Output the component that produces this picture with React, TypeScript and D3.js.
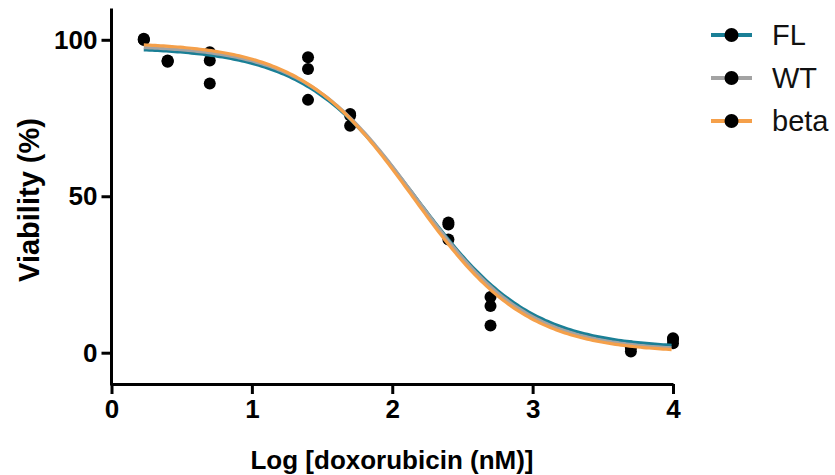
import React, { useEffect, useRef } from "react";
import * as d3 from "d3";

// log dose values (x) and viability readings per series
const seriesNames = ["FL", "WT", "beta"];
const seriesColors = ["#1a7f96", "#a3a3a3", "#f5a04a"];

const flX = [0.23, 0.4, 0.7, 1.4, 1.7, 2.4, 2.7, 3.7, 4];
const flY = [100.3, 93.4, 96, 94.4, 76.3, 41.6, 17.8, 2.0, 4.3];
const wtX = [0.23, 0.4, 0.7, 1.4, 1.7, 2.4, 2.7, 3.7, 4];
const wtY = [100, 93, 93.4, 90.7, 72.5, 36.2, 14.9, 0.4, 3.0];
const betaX = [0.23, 0.4, 0.7, 1.4, 1.7, 2.4, 2.7, 3.7, 4];
const betaY = [100, 93.2, 86, 80.8, 75.8, 41, 8.7, 1.6, 4.6];

// fitted sigmoid parameters: top, bottom, logEC50, hill
const fitTop = [97.6, 98.3, 99.2];
const fitBottom = [1.3, 0.5, 0];
const fitLogEC50 = [2.17, 2.17, 2.15];
const fitHill = [1.07, 1.08, 1.08];

const xTicks = [0, 1, 2, 3, 4];
const yTicks = [0, 50, 100];

const App = () => {
  const ref = useRef<SVGSVGElement>(null);

  useEffect(() => {
    const svg = d3.select(ref.current);
    svg.selectAll("*").remove();

    const x = d3.scaleLinear().domain([0, 4]).range([111.5, 673]);
    const y = d3.scaleLinear().domain([-10, 110]).range([384, 8.5]);

    const xs = [flX, wtX, betaX];
    const ys = [flY, wtY, betaY];

    // points
    const pts = svg.append("g");
    xs.forEach((sx, i) => {
      pts
        .selectAll(null)
        .data(sx.map((v, j) => [v, ys[i][j]]))
        .enter()
        .append("circle")
        .attr("cx", (d) => x(d[0]))
        .attr("cy", (d) => y(d[1]))
        .attr("r", 6)
        .attr("fill", "#000");
    });

    // fit curves
    seriesNames.forEach((name, i) => {
      const grid = d3.range(0.23, 4.0001, 0.02);
      const fy = (v: number) =>
        fitBottom[i] +
        (fitTop[i] - fitBottom[i]) / (1 + Math.pow(10, (v - fitLogEC50[i]) * fitHill[i]));
      svg
        .append("path")
        .datum(grid)
        .attr("fill", "none")
        .attr("stroke", seriesColors[i])
        .attr("stroke-width", 3.2)
        .attr(
          "d",
          d3
            .line<number>()
            .x((d) => x(d))
            .y((d) => y(fy(d)))
        );
    });

    // axes
    const yAxis = svg
      .append("g")
      .attr("transform", "translate(111.5,0)")
      .call(d3.axisLeft(y).tickValues(yTicks).tickSize(10).tickSizeOuter(0).tickPadding(4));
    const xAxis = svg
      .append("g")
      .attr("transform", "translate(0,384)")
      .call(
        d3
          .axisBottom(x)
          .tickValues(xTicks)
          .tickFormat(d3.format("d"))
          .tickSize(10)
          .tickSizeOuter(0)
          .tickPadding(6)
      );

    [yAxis, xAxis].forEach((g) => {
      g.selectAll("path, line").attr("stroke", "#000").attr("stroke-width", 3);
      g.selectAll("text")
        .attr("fill", "#000")
        .style("font-family", "'Liberation Sans', Arial, sans-serif")
        .style("font-weight", "bold")
        .style("font-size", "26px");
    });
    yAxis.select(".domain").attr("d", `M0,${y(110)}V${384 + 1.5}`);

    svg
      .append("text")
      .attr("transform", "translate(39,200) rotate(-90)")
      .attr("text-anchor", "middle")
      .style("font-family", "'Liberation Sans', Arial, sans-serif")
      .style("font-weight", "bold")
      .style("font-size", "29px")
      .text("Viability (%)");

    svg
      .append("text")
      .attr("x", 392)
      .attr("y", 469)
      .attr("text-anchor", "middle")
      .style("font-family", "'Liberation Sans', Arial, sans-serif")
      .style("font-weight", "bold")
      .style("font-size", "26px")
      .text("Log [doxorubicin (nM)]");

    // legend
    const legend = svg
      .selectAll(".leg")
      .data(seriesNames)
      .enter()
      .append("g")
      .attr("class", "leg")
      .attr("transform", (d, i) => `translate(0,${35 + i * 43})`);
    legend
      .append("line")
      .attr("x1", 711)
      .attr("x2", 752)
      .attr("stroke", (d, i) => seriesColors[i])
      .attr("stroke-width", 4);
    legend.append("circle").attr("cx", 731.5).attr("r", 7).attr("fill", "#000");
    legend
      .append("text")
      .attr("x", 772)
      .attr("dy", "0.36em")
      .style("font-family", "'Liberation Sans', Arial, sans-serif")
      .style("font-size", "29px")
      .attr("fill", "#111")
      .text((d) => d);
  }, []);

  return (
    <svg
      ref={ref}
      width={835}
      height={475}
      style={{ position: "absolute", left: 0, top: 0, background: "#fff" }}
    />
  );
};

export default App;
